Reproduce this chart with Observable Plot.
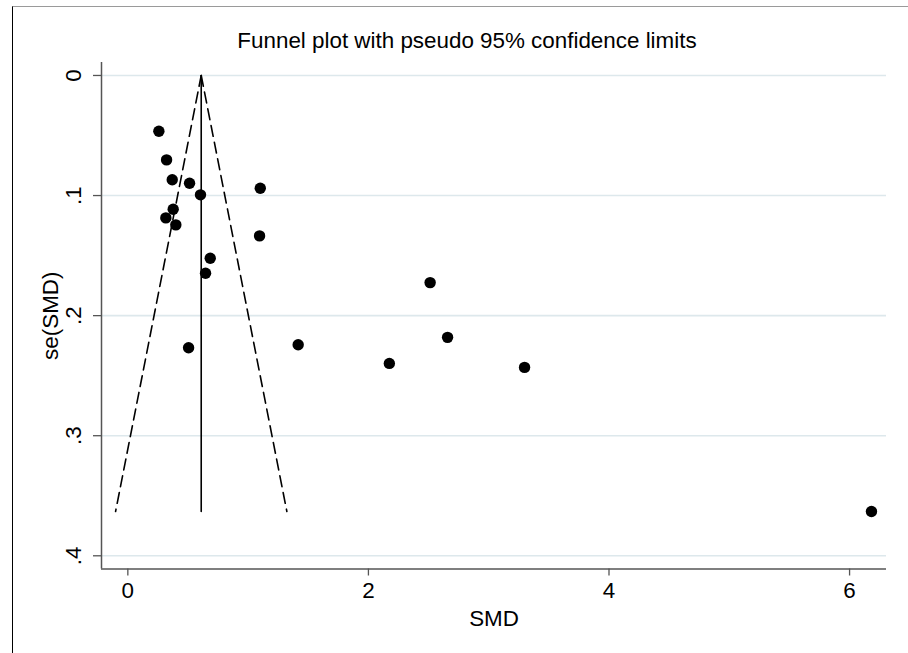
<!DOCTYPE html>
<html>
<head>
<meta charset="utf-8">
<script src="https://cdn.jsdelivr.net/npm/d3@7"></script>
<script src="https://cdn.jsdelivr.net/npm/@observablehq/plot@0.6"></script>
<style>
  html, body { margin: 0; padding: 0; background: #fff; }
  body { width: 908px; height: 653px; position: relative; overflow: hidden;
         font-family: "Liberation Sans", Arial, Helvetica, sans-serif; }
  #frame { position: absolute; left: 12px; top: 6px; right: 0; bottom: 0;
           border-top: 1px solid #9a9a9a; border-left: 1px solid #000; pointer-events: none; z-index: 2; }
  #title { position: absolute; left: 0; top: 30px; width: 934px; text-align: center;
           font-size: 22.4px; line-height: 22px; color: #000; z-index: 3; }
  #chart { position: absolute; left: 0; top: 0; }
</style>
</head>
<body>
<div id="frame"></div>
<div id="title">Funnel plot with pseudo 95% confidence limits</div>
<div id="chart"></div>
<script>
// Study effect sizes (SMD) and their standard errors
const smd = [0.258, 0.322, 0.369, 0.513, 0.604, 1.101, 0.377, 0.316, 0.399, 1.095,
             0.685, 0.646, 0.505, 1.416, 2.513, 2.658, 2.174, 3.298, 6.182];
const seSmd = [0.0464, 0.0703, 0.0869, 0.0898, 0.0994, 0.0939, 0.1114, 0.1186, 0.1244, 0.1336,
               0.1522, 0.1647, 0.2267, 0.2242, 0.1725, 0.2181, 0.2398, 0.2431, 0.3631];

// Pooled estimate line and pseudo 95% confidence limits (funnel vertices)
const pooledLine = [{x: 0.61, y: 0}, {x: 0.61, y: 0.3631}];
const lowerLimit = [{x: 0.61, y: 0}, {x: -0.102, y: 0.3631}];
const upperLimit = [{x: 0.61, y: 0}, {x: 1.322, y: 0.3631}];

// Axis ticks and labels
const xTicks = [0, 2, 4, 6];
const xTickLabels = ["0", "2", "4", "6"];
const yTicks = [0, 0.1, 0.2, 0.3, 0.4];
const yTickLabels = ["0", ".1", ".2", ".3", ".4"];
const titleText = "Funnel plot with pseudo 95% confidence limits";
const xLabel = "SMD";
const yLabel = "se(SMD)";

const points = smd.map((v, i) => ({x: v, y: seSmd[i]}));
const xLabelRows = xTicks.map((t, i) => ({x: t, label: xTickLabels[i]}));
const yLabelRows = yTicks.map((t, i) => ({y: t, label: yTickLabels[i]}));

const xDomain = [-0.219, 6.307];
const yDomain = [-0.0108, 0.411];

const font = "'Liberation Sans', Arial, Helvetica, sans-serif";
const axisColor = "#555";
const fs = 22.4;

const chart = Plot.plot({
  width: 908,
  height: 653,
  marginLeft: 101,
  marginRight: 22,
  marginTop: 62,
  marginBottom: 84.5,
  style: {background: "transparent", fontFamily: font, fontSize: fs + "px", color: "#000"},
  x: {domain: xDomain},
  y: {domain: yDomain, reverse: true},
  marks: [
    Plot.gridY(yTicks, {stroke: "#dde8ec", strokeOpacity: 1, strokeWidth: 1.6}),
    Plot.ruleX([xDomain[0]], {stroke: axisColor, strokeWidth: 1.5}),
    Plot.ruleY([yDomain[1]], {stroke: axisColor, strokeWidth: 1.5}),
    Plot.axisX(xTicks, {tickSize: 7, stroke: axisColor, strokeWidth: 1.3,
      label: null, tickFormat: () => ""}),
    Plot.axisY(yTicks, {tickSize: 8, stroke: axisColor, strokeWidth: 1.3,
      label: null, tickFormat: () => ""}),
    Plot.text(xLabelRows, {x: "x", text: "label", frameAnchor: "bottom", dy: 29,
      textAnchor: "middle", lineAnchor: "bottom", fontSize: fs, fill: "#000"}),
    Plot.text(yLabelRows, {y: "y", text: "label", frameAnchor: "left", dx: -21,
      rotate: -90, textAnchor: "middle", lineAnchor: "bottom", fontSize: fs, fill: "#000"}),
    Plot.text([yLabel], {frameAnchor: "left", dx: -44, rotate: -90, textAnchor: "middle",
      lineAnchor: "bottom", fontSize: fs, fill: "#000"}),
    Plot.text([xLabel], {frameAnchor: "bottom", dy: 57, textAnchor: "middle",
      lineAnchor: "bottom", fontSize: fs, fill: "#000"}),
    Plot.line(pooledLine, {x: "x", y: "y", stroke: "#000", strokeWidth: 1.6}),
    Plot.line(lowerLimit, {x: "x", y: "y", stroke: "#000", strokeWidth: 1.6, strokeDasharray: "11,6"}),
    Plot.line(upperLimit, {x: "x", y: "y", stroke: "#000", strokeWidth: 1.6, strokeDasharray: "11,6"}),
    Plot.dot(points, {x: "x", y: "y", r: 5.7, fill: "#000", stroke: "none"})
  ]
});
document.getElementById("chart").appendChild(chart);
document.getElementById("title").textContent = titleText;
</script>
</body>
</html>
